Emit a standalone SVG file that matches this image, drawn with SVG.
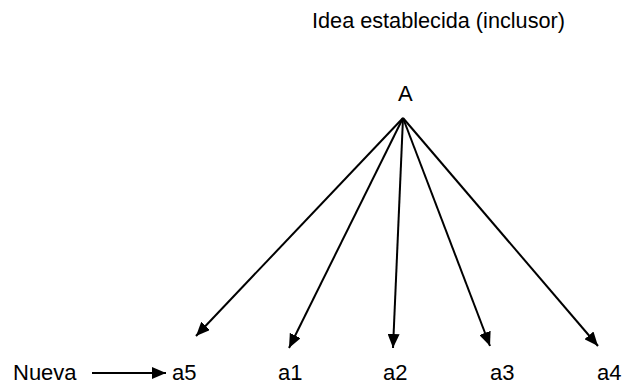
<svg xmlns="http://www.w3.org/2000/svg" width="626" height="387" viewBox="0 0 626 387">
<style>
text{font-family:"Liberation Sans",Arial,sans-serif;font-size:22px;fill:#000}
.c{stroke:#000;stroke-width:2;fill:none}
</style>
<defs>
<marker id="ah" viewBox="0 0 14 12" refX="14" refY="6" markerWidth="7" markerHeight="6" markerUnits="strokeWidth" orient="auto">
<path d="M0,0 L14,6 L0,12 Z" fill="#000"/>
</marker>
</defs>
<rect width="626" height="387" fill="#fff"/>
<g id="title"><text x="312" y="28" textLength="253" lengthAdjust="spacingAndGlyphs">Idea establecida (inclusor)</text></g>
<g id="A"><text x="398" y="101">A</text></g>
<g id="nueva"><text x="13" y="380">Nueva</text></g>
<g id="a5"><text x="172" y="380">a5</text></g>
<g id="a1"><text x="278" y="380">a1</text></g>
<g id="a2"><text x="383" y="380">a2</text></g>
<g id="a3"><text x="490" y="380">a3</text></g>
<g id="a4"><text x="597" y="380">a4</text></g>
<g id="connectors" class="c">
<line x1="403" y1="118" x2="196" y2="336" marker-end="url(#ah)"/>
<line x1="403" y1="118" x2="289" y2="348" marker-end="url(#ah)"/>
<line x1="403" y1="118" x2="393" y2="348" marker-end="url(#ah)"/>
<line x1="403" y1="118" x2="490" y2="346" marker-end="url(#ah)"/>
<line x1="403" y1="118" x2="598" y2="346" marker-end="url(#ah)"/>
<line x1="92" y1="373" x2="166" y2="373" marker-end="url(#ah)"/>
</g>
</svg>
